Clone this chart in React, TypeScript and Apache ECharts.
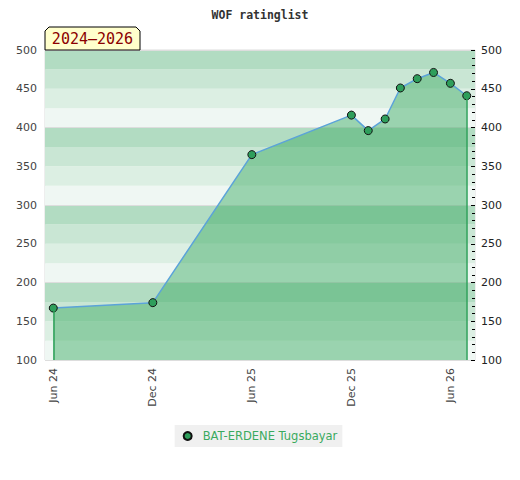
import React, { useEffect, useRef } from "react";
import * as echarts from "echarts";

const dates = [
  "2024-06-01", "2024-12-01", "2025-06-01", "2025-12-01", "2026-01-01", "2026-02-01",
  "2026-03-01", "2026-04-01", "2026-05-01", "2026-06-01", "2026-07-01",
];
const ratings = [167, 174, 365, 416, 396, 411, 451, 463, 471, 457, 441];
const tickDates = ["2024-06-01", "2024-12-01", "2025-06-01", "2025-12-01", "2026-06-01"];
const playerName = "BAT-ERDENE Tugsbayar";
const titleText = "WOF ratinglist";
const periodText = "2024\u20132026";
const bandColors = ["#eff7f3", "#dcefe3", "#c9e6d4", "#b2dcc2"];
const monthNames = ["Jan", "Feb", "Mar", "Apr", "May", "Jun", "Jul", "Aug", "Sep", "Oct", "Nov", "Dec"];

const ts = (d: string) => Date.parse(d + "T00:00:00Z");
const fmt = (v: number) => {
  const d = new Date(v);
  return monthNames[d.getUTCMonth()] + " " + String(d.getUTCFullYear() % 100).padStart(2, "0");
};

export default function App() {
  const ref = useRef<HTMLDivElement>(null);
  useEffect(() => {
    document.body.style.margin = "0";
    const chart = echarts.init(ref.current!, null, { renderer: "svg" });
    const xs = dates.map(ts);
    const first = xs[0];
    const last = xs[xs.length - 1];
    const pad = (last - first) * 0.02;
    const data = xs.map((x, i) => [x, ratings[i]]);
    const yMin = 100;
    const yMax = 500;
    chart.setOption({
      animation: false,
      title: {
        text: titleText,
        left: "center",
        top: 4,
        textStyle: { fontFamily: "DejaVu Sans Mono", fontWeight: "bold", fontSize: 11.5, color: "#333" },
      },
      grid: { left: 45, right: 45, top: 50, bottom: 120, show: true, borderColor: "#dddddd", borderWidth: 1 },
      legend: {
        bottom: 33,
        left: "center",
        padding: [5, 5, 5, 8],
        backgroundColor: "#f0f0f0",
        itemWidth: 8,
        itemHeight: 8,
        icon: "circle",
        textStyle: { color: "#3aaa5e", fontSize: 11.5, fontFamily: "DejaVu Sans", padding: [0, 0, 0, 6] },
        data: [playerName],
      },
      xAxis: {
        type: "value",
        min: first - pad,
        max: last + pad,
        axisLine: { show: false },
        axisTick: { show: false },
        splitLine: { show: false },
        axisLabel: {
          customValues: tickDates.map(ts),
          formatter: (v: number) => fmt(v),
          rotate: 90,
          color: "#444",
          fontSize: 11,
          fontFamily: "DejaVu Sans",
          margin: 8,
        },
      },
      yAxis: [
        {
          type: "value",
          min: yMin,
          max: yMax,
          interval: 50,
          position: "left",
          axisLine: { show: false },
          axisTick: { show: false },
          splitLine: { show: false },
          axisLabel: { color: "#444", fontSize: 11, fontFamily: "DejaVu Sans", margin: 8 },
        },
        {
          type: "value",
          min: yMin,
          max: yMax,
          interval: 50,
          position: "right",
          axisLine: { show: false },
          axisTick: { show: true, inside: true, length: 4, lineStyle: { color: "#000" } },
          minorTick: { show: true, splitNumber: 5, length: 3, lineStyle: { color: "#000" } },
          splitLine: { show: false },
          axisLabel: { color: "#222", fontSize: 11, fontFamily: "DejaVu Sans", margin: 6 },
        },
        {
          type: "value",
          min: yMin,
          max: yMax,
          interval: 25,
          axisLine: { show: false },
          axisTick: { show: false },
          axisLabel: { show: false },
          splitLine: { show: false },
          splitArea: { show: true, areaStyle: { color: bandColors, opacity: 1 } },
          z: 0,
        },
        {
          type: "value",
          min: yMin,
          max: yMax,
          interval: 100,
          axisLine: { show: false },
          axisTick: { show: false },
          axisLabel: { show: false },
          splitLine: { show: true, lineStyle: { color: "#dddddd", width: 1 } },
        },
      ],
      series: [
        {
          name: playerName,
          type: "line",
          data,
          yAxisIndex: 0,
          symbol: "circle",
          symbolSize: 8,
          itemStyle: { color: "#2e9e5b", borderColor: "#111", borderWidth: 1 },
          lineStyle: { color: "#5ba3d9", width: 1.5 },
          areaStyle: { color: "rgba(59,170,98,0.47)", opacity: 1, origin: "start" },
          markLine: {
            silent: true,
            symbol: "none",
            label: { show: false },
            lineStyle: { color: "#2ea05a", width: 1.5, type: "solid" },
            data: [
              [{ coord: [first, yMin] }, { coord: [first, ratings[0]] }],
              [{ coord: [last, yMin] }, { coord: [last, ratings[ratings.length - 1]] }],
            ],
          },
          z: 3,
        },
      ],
      graphic: [
        {
          type: "polygon",
          shape: { points: [[45, 50], [45, 31], [49, 27], [136, 27], [140, 31], [140, 50]] },
          style: { fill: "#ffffcc", stroke: "#000", lineWidth: 1 },
          z: 10,
        },
        {
          type: "text",
          x: 92.5,
          y: 39,
          style: {
            text: periodText,
            fill: "#8b0000",
            font: "15px 'DejaVu Sans Mono'",
            textAlign: "center",
            textVerticalAlign: "middle",
          },
          z: 11,
        },
      ],
    });
    return () => chart.dispose();
  }, []);
  return <div ref={ref} style={{ width: 520, height: 480 }} />;
}
